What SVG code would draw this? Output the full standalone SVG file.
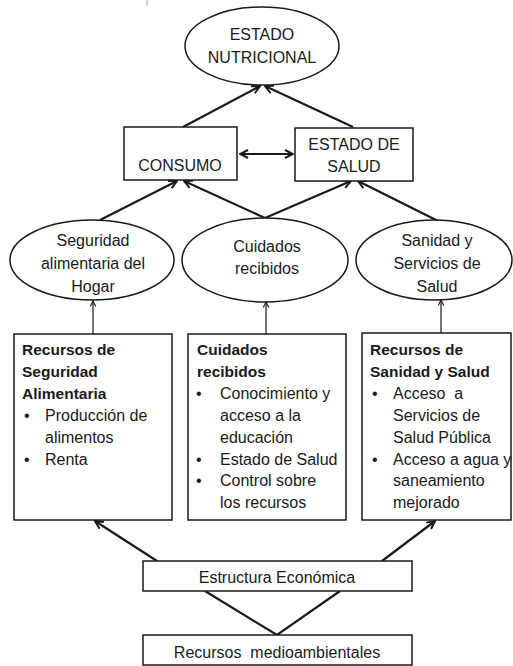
<svg xmlns="http://www.w3.org/2000/svg" width="513" height="666" viewBox="0 0 513 666">
<style>
.shape{fill:#fff;stroke:#1a1a1a;stroke-width:1.5}
.t{font-family:"Liberation Sans",Arial,sans-serif;font-size:16px;fill:#1a1a1a}
.c{text-anchor:middle}
.b{font-weight:bold;font-size:15.5px}
.thick{stroke:#1a1a1a;stroke-width:2.2;fill:none}
.thin{stroke:#1a1a1a;stroke-width:1.2;fill:none}
</style>
<defs>
<marker id="arr" viewBox="0 0 10 10" refX="9" refY="5" markerWidth="10" markerHeight="10" orient="auto-start-reverse" markerUnits="userSpaceOnUse">
<path d="M1,1 L9,5 L1,9" fill="none" stroke="#1a1a1a" stroke-width="2"/>
</marker>
<marker id="arrs" viewBox="0 0 10 10" refX="9" refY="5" markerWidth="7" markerHeight="7" orient="auto" markerUnits="userSpaceOnUse">
<path d="M1,1 L9,5 L1,9" fill="none" stroke="#1a1a1a" stroke-width="1.6"/>
</marker>
</defs>
<line x1="147" y1="0" x2="147" y2="6" stroke="#aaa" stroke-width="1"/>

<g id="connectors">
<line class="thick" x1="183" y1="127" x2="260" y2="86" marker-end="url(#arr)"/>
<line class="thick" x1="353" y1="127" x2="265" y2="86" marker-end="url(#arr)"/>
<line class="thick" x1="240" y1="154" x2="293" y2="154" marker-start="url(#arr)" marker-end="url(#arr)"/>
<line class="thick" x1="100" y1="220" x2="177" y2="181" marker-end="url(#arr)"/>
<line class="thick" x1="265" y1="218" x2="184" y2="181" marker-end="url(#arr)"/>
<line class="thick" x1="265" y1="218" x2="351" y2="181" marker-end="url(#arr)"/>
<line class="thick" x1="440" y1="222" x2="358" y2="181" marker-end="url(#arr)"/>
<line class="thin" x1="93" y1="334" x2="93" y2="301" marker-end="url(#arrs)"/>
<line class="thin" x1="266" y1="334" x2="266" y2="302" marker-end="url(#arrs)"/>
<line class="thin" x1="441" y1="333" x2="441" y2="300" marker-end="url(#arrs)"/>
<line class="thick" x1="157" y1="561" x2="95" y2="521" marker-end="url(#arr)"/>
<line class="thick" x1="382" y1="561" x2="435" y2="521" marker-end="url(#arr)"/>
<polyline class="thick" points="205,591 277,635 340,591"/>
</g>

<g id="estado-nutricional">
<ellipse class="shape" cx="262" cy="46" rx="77" ry="39"/>
<text class="t c" x="262" y="40">ESTADO</text>
<text class="t c" x="262" y="63">NUTRICIONAL</text>
</g>

<g id="consumo">
<rect class="shape" x="124" y="127" width="113" height="53"/>
<text class="t c" x="180" y="171">CONSUMO</text>
</g>

<g id="estado-salud">
<rect class="shape" x="295" y="128" width="118" height="53"/>
<text class="t c" x="354" y="150">ESTADO DE</text>
<text class="t c" x="354" y="172">SALUD</text>
</g>

<g id="seguridad">
<ellipse class="shape" cx="92" cy="260" rx="82" ry="40"/>
<text class="t c" x="93" y="246">Seguridad</text>
<text class="t c" x="93" y="269">alimentaria del</text>
<text class="t c" x="93" y="292">Hogar</text>
</g>

<g id="cuidados">
<ellipse class="shape" cx="265" cy="260" rx="83" ry="42"/>
<text class="t c" x="267" y="252">Cuidados</text>
<text class="t c" x="267" y="274">recibidos</text>
</g>

<g id="sanidad">
<ellipse class="shape" cx="434" cy="260" rx="78" ry="40"/>
<text class="t c" x="437" y="246">Sanidad y</text>
<text class="t c" x="437" y="269">Servicios de</text>
<text class="t c" x="437" y="292">Salud</text>
</g>

<g id="recursos-seguridad">
<rect class="shape" x="14" y="334" width="158" height="186"/>
<text class="t b" x="22" y="355">Recursos de</text>
<text class="t b" x="22" y="377">Seguridad</text>
<text class="t b" x="22" y="399">Alimentaria</text>
<text class="t" x="24" y="421">•</text>
<text class="t" x="45" y="421">Producción de</text>
<text class="t" x="45" y="443">alimentos</text>
<text class="t" x="24" y="465">•</text>
<text class="t" x="45" y="465">Renta</text>
</g>

<g id="recursos-cuidados">
<rect class="shape" x="188" y="334" width="158" height="186"/>
<text class="t b" x="197" y="355">Cuidados</text>
<text class="t b" x="197" y="377">recibidos</text>
<text class="t" x="196" y="399">•</text>
<text class="t" x="220" y="399">Conocimiento y</text>
<text class="t" x="220" y="421">acceso a la</text>
<text class="t" x="220" y="443">educación</text>
<text class="t" x="196" y="465">•</text>
<text class="t" x="220" y="465">Estado de Salud</text>
<text class="t" x="196" y="486">•</text>
<text class="t" x="220" y="486">Control sobre</text>
<text class="t" x="220" y="508">los recursos</text>
</g>

<g id="recursos-sanidad">
<rect class="shape" x="362" y="333" width="149" height="187"/>
<text class="t b" x="370" y="355">Recursos de</text>
<text class="t b" x="370" y="377">Sanidad y Salud</text>
<text class="t" x="372" y="399">•</text>
<text class="t" x="393" y="399">Acceso&#160; a</text>
<text class="t" x="393" y="421">Servicios de</text>
<text class="t" x="393" y="443">Salud Pública</text>
<text class="t" x="372" y="465">•</text>
<text class="t" x="393" y="465">Acceso a agua y</text>
<text class="t" x="393" y="486">saneamiento</text>
<text class="t" x="393" y="508">mejorado</text>
</g>

<g id="estructura">
<rect class="shape" x="143" y="561" width="269" height="30"/>
<text class="t c" x="277" y="583">Estructura Económica</text>
</g>

<g id="medioambientales">
<rect class="shape" x="143" y="635" width="269" height="30"/>
<text class="t c" x="277" y="658">Recursos&#160; medioambientales</text>
</g>
</svg>
